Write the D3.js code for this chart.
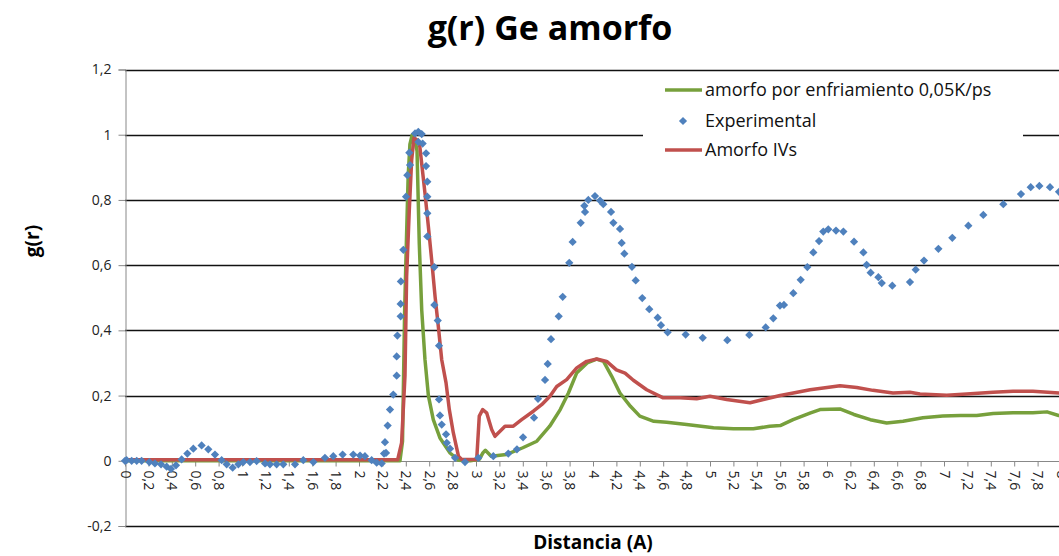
<!DOCTYPE html>
<html>
<head>
<meta charset="utf-8">
<script src="https://cdn.jsdelivr.net/npm/d3@7"></script>
<style>
  body { margin: 0; background: #fff; }
  svg { display: block; font-family: "Open Sans", Lato, sans-serif; }
</style>
</head>
<body>
<div id="chart"></div>
<script>
// Experimental points (distance, g(r))
const expX = [0, 0.014, 0.057, 0.1, 0.142, 0.208, 0.256, 0.308, 0.356, 0.393, 0.436, 0.484, 0.533, 0.584, 0.655, 0.712, 0.769, 0.826, 0.869, 0.92, 0.969, 1.011, 1.068, 1.125, 1.197, 1.239, 1.296, 1.353, 1.453, 1.524, 1.61, 1.709, 1.78, 1.86, 1.951, 2.009, 2.051, 2.108, 2.151, 2.194, 2.214, 2.222, 2.231, 2.245, 2.265, 2.293, 2.322, 2.322, 2.328, 2.356, 2.356, 2.358, 2.379, 2.402, 2.413, 2.43, 2.436, 2.479, 2.507, 2.536, 2.507, 2.544, 2.573, 2.573, 2.584, 2.584, 2.584, 2.584, 2.644, 2.644, 2.673, 2.684, 2.684, 2.692, 2.707, 2.744, 2.75, 2.778, 2.821, 2.906, 3.02, 3.148, 3.276, 3.35, 3.402, 3.496, 3.53, 3.59, 3.613, 3.641, 3.707, 3.741, 3.797, 3.826, 3.895, 3.932, 3.926, 3.96, 4.017, 4.06, 4.088, 4.154, 4.174, 4.231, 4.245, 4.268, 4.333, 4.365, 4.421, 4.481, 4.553, 4.581, 4.638, 4.792, 4.938, 5.148, 5.336, 5.476, 5.541, 5.598, 5.632, 5.712, 5.775, 5.832, 5.883, 5.932, 5.968, 6.011, 6.077, 6.14, 6.231, 6.311, 6.339, 6.373, 6.439, 6.468, 6.558, 6.709, 6.758, 6.829, 6.952, 7.071, 7.208, 7.336, 7.507, 7.658, 7.741, 7.815, 7.906, 7.983];
const expY = [0, 0.002, 0, 0, 0, -0.004, -0.008, -0.011, -0.018, -0.025, -0.014, 0.004, 0.022, 0.037, 0.047, 0.035, 0.019, 0.002, -0.011, -0.021, -0.011, -0.004, -0.004, -0.001, -0.008, -0.011, -0.011, -0.011, -0.011, 0.002, -0.004, 0.009, 0.014, 0.019, 0.019, 0.016, 0.014, 0.002, -0.006, -0.008, 0.022, 0.057, 0.024, 0.108, 0.157, 0.203, 0.261, 0.32, 0.384, 0.443, 0.481, 0.55, 0.647, 0.81, 0.876, 0.945, 0.907, 1.004, 1.009, 1.002, 0.978, 0.973, 0.943, 0.904, 0.856, 0.81, 0.759, 0.688, 0.594, 0.478, 0.43, 0.353, 0.188, 0.139, 0.111, 0.081, 0.055, 0.037, 0.009, -0.004, 0.009, 0.014, 0.022, 0.035, 0.072, 0.132, 0.19, 0.248, 0.297, 0.373, 0.443, 0.503, 0.607, 0.671, 0.73, 0.763, 0.782, 0.8, 0.812, 0.798, 0.787, 0.763, 0.73, 0.711, 0.668, 0.635, 0.595, 0.553, 0.499, 0.465, 0.439, 0.416, 0.394, 0.387, 0.377, 0.37, 0.386, 0.409, 0.437, 0.476, 0.478, 0.514, 0.555, 0.594, 0.639, 0.674, 0.703, 0.71, 0.706, 0.703, 0.672, 0.639, 0.601, 0.577, 0.563, 0.545, 0.537, 0.548, 0.586, 0.614, 0.65, 0.684, 0.721, 0.754, 0.787, 0.818, 0.839, 0.843, 0.839, 0.825];

// amorfo por enfriamiento 0,05K/ps
const enfX = [0, 2.35, 2.372, 2.39, 2.405, 2.42, 2.435, 2.455, 2.475, 2.496, 2.515, 2.536, 2.564, 2.593, 2.635, 2.692, 2.778, 2.85, 2.95, 3.03, 3.06, 3.08, 3.13, 3.26, 3.4, 3.52, 3.63, 3.72, 3.79, 3.86, 3.95, 4.03, 4.09, 4.16, 4.23, 4.32, 4.4, 4.52, 4.63, 4.8, 5.03, 5.2, 5.37, 5.51, 5.6, 5.71, 5.86, 5.94, 6.11, 6.23, 6.37, 6.51, 6.65, 6.82, 6.99, 7.14, 7.28, 7.42, 7.59, 7.76, 7.88, 7.98, 8.05];
const enfY = [0, 0, 0.06, 0.46, 0.67, 0.87, 0.97, 1.0, 0.99, 0.95, 0.668, 0.463, 0.31, 0.2, 0.126, 0.07, 0.024, 0.002, 0, 0.005, 0.025, 0.032, 0.014, 0.019, 0.04, 0.06, 0.106, 0.157, 0.208, 0.269, 0.3, 0.312, 0.305, 0.259, 0.208, 0.167, 0.137, 0.121, 0.118, 0.111, 0.101, 0.098, 0.098, 0.106, 0.108, 0.126, 0.147, 0.157, 0.159, 0.142, 0.126, 0.116, 0.121, 0.132, 0.137, 0.139, 0.139, 0.145, 0.147, 0.147, 0.15, 0.139, 0.135];

// Amorfo IVs
const ivsX = [0, 2.33, 2.364, 2.393, 2.407, 2.43, 2.45, 2.47, 2.5, 2.52, 2.564, 2.593, 2.621, 2.65, 2.678, 2.707, 2.744, 2.772, 2.806, 2.85, 2.878, 3.006, 3.028, 3.057, 3.091, 3.134, 3.162, 3.248, 3.319, 3.39, 3.49, 3.561, 3.632, 3.69, 3.775, 3.861, 3.946, 4.032, 4.117, 4.2, 4.274, 4.345, 4.459, 4.6, 4.744, 4.886, 5.0, 5.143, 5.342, 5.456, 5.6, 5.712, 5.855, 5.968, 6.111, 6.254, 6.393, 6.564, 6.709, 6.795, 7.023, 7.194, 7.42, 7.59, 7.76, 7.983, 8.05];
const ivsY = [0.003, 0.003, 0.055, 0.26, 0.565, 0.77, 0.922, 0.99, 0.983, 0.963, 0.82, 0.718, 0.616, 0.504, 0.412, 0.31, 0.239, 0.157, 0.086, 0.014, 0.004, 0.004, 0.137, 0.157, 0.147, 0.096, 0.075, 0.106, 0.106, 0.126, 0.152, 0.172, 0.198, 0.228, 0.249, 0.285, 0.305, 0.312, 0.305, 0.279, 0.269, 0.247, 0.218, 0.193, 0.193, 0.19, 0.198, 0.188, 0.178, 0.188, 0.2, 0.208, 0.218, 0.223, 0.23, 0.225, 0.216, 0.208, 0.21, 0.205, 0.201, 0.205, 0.21, 0.213, 0.213, 0.208, 0.208];

const xTicks = d3.range(0, 41).map((i) => i / 5);
const yTicks = [-0.2, 0, 0.2, 0.4, 0.6, 0.8, 1, 1.2];

const seriesNames = ["amorfo por enfriamiento 0,05K/ps", "Experimental", "Amorfo IVs"];
const colors = ["#77a03c", "#4f81bd", "#c0504d"];

const width = 1059;
const height = 556;

const locale = d3.formatLocale({
  decimal: ",",
  thousands: ".",
  grouping: [3],
  currency: ["", ""],
  minus: "-",
});
const fmt = locale.format(".2~f");

const x = d3.scaleLinear().domain([0, 8.2]).range([125, 125 + 8.2 * 117]);
const y = d3.scaleLinear().domain([-0.2, 1.2]).range([526, 69.5]);

const svg = d3
  .select("#chart")
  .append("svg")
  .attr("width", width)
  .attr("height", height);

// gridlines
svg
  .append("g")
  .selectAll("line")
  .data(yTicks.filter((d) => d !== 0))
  .join("line")
  .attr("x1", x(0))
  .attr("x2", width)
  .attr("y1", (d) => Math.round(y(d)) + 0.5)
  .attr("y2", (d) => Math.round(y(d)) + 0.5)
  .attr("stroke", "#111")
  .attr("stroke-width", 1.3);

// y axis
const yAxis = svg
  .append("g")
  .attr("transform", "translate(" + (x(0) + 0.5) + ",0)")
  .call(d3.axisLeft(y).tickValues(yTicks).tickSize(7).tickPadding(7).tickFormat(fmt));
yAxis.select(".domain").attr("stroke", "#888");
yAxis.selectAll(".tick line").attr("stroke", "#888");
yAxis.selectAll("text").attr("font-size", 14).attr("fill", "#222").attr("font-family", "'Open Sans', sans-serif");

// x axis (at y = 0)
const xAxis = svg
  .append("g")
  .attr("transform", "translate(0," + (Math.round(y(0)) + 0.5) + ")")
  .call(d3.axisBottom(x).tickValues(xTicks).tickSize(5).tickSizeOuter(0).tickFormat(fmt));
xAxis.select(".domain").attr("stroke", "#888").attr("d", "M" + x(0) + ",0H" + width);
xAxis.selectAll(".tick line").attr("stroke", "#888");
xAxis
  .selectAll("text")
  .attr("font-size", 14)
  .attr("fill", "#222")
  .attr("font-family", "'Open Sans', sans-serif")
  .attr("y", 0)
  .attr("x", 9)
  .attr("dy", "0.35em")
  .attr("transform", "rotate(90)")
  .style("text-anchor", "start");

// lines
const line = d3
  .line()
  .x((d) => x(d[0]))
  .y((d) => y(d[1]));

svg
  .append("path")
  .datum(d3.zip(enfX, enfY))
  .attr("d", line)
  .attr("fill", "none")
  .attr("stroke", colors[0])
  .attr("stroke-width", 3.5)
  .attr("stroke-linejoin", "round");

svg
  .append("path")
  .datum(d3.zip(ivsX, ivsY))
  .attr("d", line)
  .attr("fill", "none")
  .attr("stroke", colors[2])
  .attr("stroke-width", 3.5)
  .attr("stroke-linejoin", "round");

// experimental diamonds
const diamond = d3.symbol().type(d3.symbolSquare).size(34);
svg
  .append("g")
  .selectAll("path")
  .data(d3.zip(expX, expY))
  .join("path")
  .attr("d", diamond)
  .attr("transform", (d) => "translate(" + x(d[0]) + "," + y(d[1]) + ") rotate(45)")
  .attr("fill", colors[1]);

// legend
const legend = svg.append("g");
legend
  .append("rect")
  .attr("x", 643)
  .attr("y", 76)
  .attr("width", 380)
  .attr("height", 90)
  .attr("fill", "#fff");

const legendY = [90, 121, 150];
seriesNames.forEach((name, i) => {
  if (i === 1) {
    legend
      .append("path")
      .attr("d", diamond)
      .attr("transform", "translate(683," + legendY[i] + ") rotate(45)")
      .attr("fill", colors[i]);
  } else {
    legend
      .append("line")
      .attr("x1", 665)
      .attr("x2", 702)
      .attr("y1", legendY[i])
      .attr("y2", legendY[i])
      .attr("stroke", colors[i])
      .attr("stroke-width", 3.5);
  }
  legend
    .append("text")
    .attr("x", 705)
    .attr("y", legendY[i])
    .attr("dy", "0.35em")
    .attr("font-size", 18)
    .attr("fill", "#111")
    .text(name);
});

// titles
svg
  .append("text")
  .attr("x", 550)
  .attr("y", 40)
  .attr("text-anchor", "middle")
  .attr("font-size", 34)
  .attr("font-weight", "bold")
  .attr("fill", "#000")
  .text("g(r) Ge amorfo");

svg
  .append("text")
  .attr("transform", "translate(39,241) rotate(-90)")
  .attr("text-anchor", "middle")
  .attr("font-size", 19)
  .attr("font-weight", "bold")
  .attr("fill", "#000")
  .text("g(r)");

svg
  .append("text")
  .attr("x", 593)
  .attr("y", 549)
  .attr("text-anchor", "middle")
  .attr("font-size", 19)
  .attr("font-weight", "bold")
  .attr("fill", "#000")
  .text("Distancia (A)");
</script>
</body>
</html>
